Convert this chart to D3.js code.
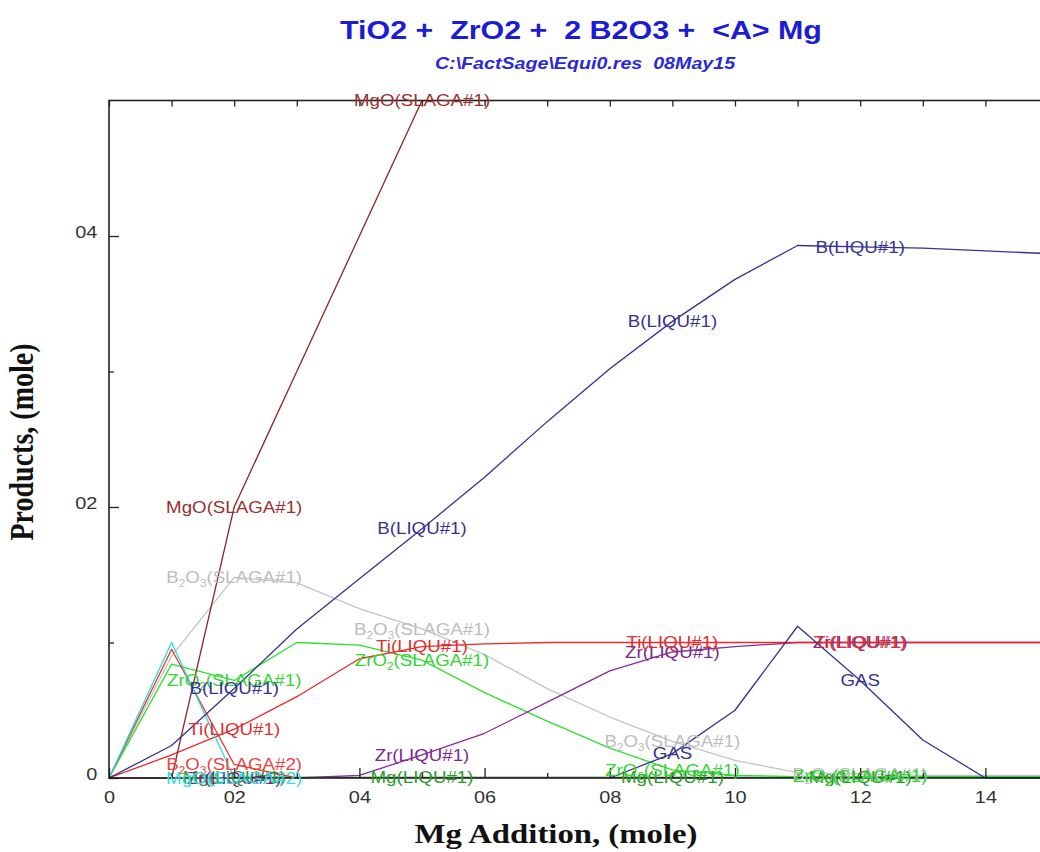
<!DOCTYPE html>
<html><head><meta charset="utf-8">
<script src="https://cdn.jsdelivr.net/npm/d3@7"></script>
<style>body{margin:0;background:#fff}svg{display:block}text{white-space:pre}</style>
</head><body>
<svg id="chart" width="1040" height="852"></svg>
<script>
// ---------------- data ----------------
const xValues      = [0, 0.1, 0.2, 0.3, 0.4, 0.5, 0.6, 0.7, 0.8, 0.9, 1.0, 1.1, 1.2, 1.3, 1.4, 1.5, 1.6];
const mgoSlaga1    = [0, 0, 0.2, 0.3, 0.4, 0.5, 0.6, 0.7, 0.8, 0.9, 1.0, 1.1, 1.2, 1.3, 1.4, 1.5, 1.6];
const bLiqu        = [0, 0.024, 0.066, 0.11, 0.147, 0.184, 0.222, 0.263, 0.302, 0.337, 0.368, 0.393, 0.392, 0.391, 0.389, 0.387, 0.386];
const b2o3Slaga1   = [0, 0.09, 0.148, 0.144, 0.125, 0.11, 0.091, 0.066, 0.045, 0.027, 0.013, 0.004, 0.003, 0.002, 0.002, 0.002, 0.002];
const tiLiqu       = [0, 0.017, 0.036, 0.06, 0.088, 0.097, 0.099, 0.1, 0.1, 0.1, 0.1, 0.1, 0.1, 0.1, 0.1, 0.1, 0.1];
const zrLiqu       = [null, null, null, 0, 0.002, 0.017, 0.033, 0.056, 0.079, 0.093, 0.097, 0.1, 0.1, 0.1, 0.1, 0.1, 0.1];
const zro2Slaga1   = [0, 0.084, 0.072, 0.1, 0.098, 0.087, 0.063, 0.042, 0.022, 0.006, 0.002, 0.001, 0.001, 0.001, 0.001, 0.001, 0.001];
const mgoSlaga2    = [0, 0.1, 0, null, null, null, null, null, null, null, null, null, null, null, null, null, null];
const b2o3Slaga2   = [0, 0.095, 0.01, 0, null, null, null, null, null, null, null, null, null, null, null, null, null];
const gas          = [null, null, null, null, null, null, null, null, 0, 0.018, 0.05, 0.112, 0.072, 0.028, 0, 0, 0];
const mgLiqu       = [null, null, 0.0005, 0.0005, 0.0005, 0.0005, 0.0005, 0.0005, 0.0005, 0.0005, 0.0005, 0.0005, 0.0005, 0.0005, 0.0005, 0.0005, 0.0005];

const xTickValues  = [0, 0.2, 0.4, 0.6, 0.8, 1.0, 1.2, 1.4];
const xTickLabels  = ["0", "02", "04", "06", "08", "10", "12", "14"];
const xMinorTicks  = [0.1, 0.3, 0.5, 0.7, 0.9, 1.1, 1.3, 1.5];
const yTickValues  = [0, 0.2, 0.4];
const yTickLabels  = ["0", "02", "04"];
const yMinorTicks  = [0.1, 0.3];

const titleText    = "TiO2 +  ZrO2 +  2 B2O3 +  <A> Mg";
const subtitleText = "C:\\FactSage\\Equi0.res  08May15";
const xTitle       = "Mg Addition, (mole)";
const yTitle       = "Products, (mole)";

// series: name uses "_d" for subscript digits
const series = [
  {name: "B_2O_3(SLAGA#1)", values: b2o3Slaga1, color: "#c4c4c4", text: "#bdbdbd", labels: [0.2, 0.5, 0.9, 1.2]},
  {name: "Mg(LIQU#1)",      values: mgLiqu,     color: "#146414", text: "#2a9a2a", labels: [0.2, 0.5, 0.9, 1.2]},
  {name: "ZrO_2(SLAGA#1)",  values: zro2Slaga1, color: "#2ee02e", text: "#33d433", labels: [0.2, 0.5, 0.9, 1.2]},
  {name: "Zr(LIQU#1)",      values: zrLiqu,     color: "#8a2a9a", text: "#7a2a8a", labels: [0.2, 0.5, 0.9, 1.2]},
  {name: "Ti(LIQU#1)",      values: tiLiqu,     color: "#e82a2a", text: "#e03030", labels: [0.2, 0.5, 0.9, 1.2]},
  {name: "B_2O_3(SLAGA#2)", values: b2o3Slaga2, color: "#ec3535", text: "#ec4545", labels: [0.2]},
  {name: "MgO(SLAGA#2)",    values: mgoSlaga2,  color: "#2adede", text: "#33dddd", labels: [0.2]},
  {name: "MgO(SLAGA#1)",    values: mgoSlaga1,  color: "#8e2222", text: "#9a3030", labels: [0.2, 0.5]},
  {name: "GAS",             values: gas,        color: "#34348c", text: "#34348c", labels: [0.9, 1.2]},
  {name: "B(LIQU#1)",       values: bLiqu,      color: "#34348e", text: "#34348e", labels: [0.2, 0.5, 0.9, 1.2]}
];

// ---------------- layout ----------------
const SX = 1.17; // horizontal stretch of all text
const svg = d3.select("#chart");
const x = d3.scaleLinear().domain([0, 1.6]).range([109, 109 + 626 * 1.6]);
const y = d3.scaleLinear().domain([0, 0.5]).range([778, 100.5]);
const font = "'Liberation Sans', Arial, sans-serif";

svg.append("rect").attr("width", 1040).attr("height", 852).attr("fill", "#fff");

function stretchedText(parent, tx, ty, txt, opts) {
  const g = parent.append("g").attr("transform", `translate(${tx},${ty}) scale(${SX},1)` + (opts.rotate ? ` rotate(${opts.rotate})` : ""));
  const t = g.append("text")
    .attr("text-anchor", opts.anchor || "middle")
    .attr("font-family", opts.family || font)
    .attr("font-size", opts.size)
    .attr("font-weight", opts.weight || "normal")
    .attr("font-style", opts.style || "normal")
    .attr("fill", opts.color || "#000");
  if (opts.dy) t.attr("dy", opts.dy);
  return t.text(txt);
}

// title
stretchedText(svg, 581, 39, titleText, {size: 26, weight: "bold", color: "#1c1cd6"});
stretchedText(svg, 585, 69, subtitleText, {size: 16.8, style: "italic", weight: "bold", color: "#2a2ad8"});

// clip
svg.append("defs").append("clipPath").attr("id", "plotClip")
  .append("rect").attr("x", 109).attr("y", 100.5).attr("width", 1100).attr("height", 681);

// lines
const plot = svg.append("g").attr("clip-path", "url(#plotClip)");
const line = d3.line()
  .defined(d => d[1] !== null)
  .x(d => x(d[0])).y(d => y(d[1]));
series.forEach(s => {
  plot.append("path")
    .datum(xValues.map((xv, i) => [xv, s.values[i]]))
    .attr("fill", "none").attr("stroke", s.color).attr("stroke-width", 1.3)
    .attr("stroke-linejoin", "round")
    .attr("d", line);
});

// axes
const axG = svg.append("g").attr("font-family", font);
const axBottom = axG.append("g").attr("transform", "translate(0,778)")
  .call(d3.axisBottom(x).tickValues(xTickValues).tickFormat((d, i) => xTickLabels[i]).tickSizeInner(-10).tickSizeOuter(0).tickPadding(13));
const axBottomMinor = axG.append("g").attr("transform", "translate(0,778)")
  .call(d3.axisBottom(x).tickValues(xMinorTicks).tickFormat("").tickSizeInner(-5).tickSizeOuter(0));
const axTop = axG.append("g").attr("transform", "translate(0,100.5)")
  .call(d3.axisTop(x).tickValues(xTickValues.concat(xMinorTicks)).tickFormat("").tickSizeInner(-6).tickSizeOuter(0));
const axLeft = axG.append("g").attr("transform", "translate(109,0)")
  .call(d3.axisLeft(y).tickValues(yTickValues).tickFormat((d, i) => yTickLabels[i]).tickSizeInner(-10).tickSizeOuter(0).tickPadding(10));
const axLeftMinor = axG.append("g").attr("transform", "translate(109,0)")
  .call(d3.axisLeft(y).tickValues(yMinorTicks).tickFormat("").tickSizeInner(-5).tickSizeOuter(0));
[axBottom, axBottomMinor, axTop, axLeft, axLeftMinor].forEach(g => {
  g.select(".domain").remove();
  g.selectAll("line").attr("stroke", "#222").attr("stroke-width", 1.3);
  g.selectAll("text").attr("font-size", 17).attr("fill", "#333").attr("font-family", font)
    .attr("transform", `scale(${SX},1)`);
});
axLeft.selectAll("text").attr("dy", "0.1em");

// frame
axG.append("rect").attr("x", 109).attr("y", 100.5).attr("width", x(1.6) - 109).attr("height", 778 - 100.5)
  .attr("fill", "none").attr("stroke", "#222").attr("stroke-width", 1.6);

// curve labels
const lab = svg.append("g");
series.forEach(s => {
  s.labels.forEach(lx => {
    const i = xValues.findIndex(v => Math.abs(v - lx) < 1e-9);
    const v = Math.min(s.values[i], 0.5);
    const t = stretchedText(lab, x(lx), y(v), "", {size: 16, color: s.text, dy: "0.36em"});
    const parts = s.name.split(/_(\d)/);
    parts.forEach((p, k) => {
      if (p === "") return;
      if (k % 2 === 1) {
        t.append("tspan").attr("font-size", 10).attr("dy", 4).text(p);
      } else {
        const ts = t.append("tspan").text(p);
        if (k > 0) ts.attr("dy", -4);
      }
    });
  });
});

// axis titles
stretchedText(svg, 556, 843, xTitle, {size: 28, weight: "bold", family: "'Liberation Serif', 'Times New Roman', serif", color: "#111"});
stretchedText(svg, 33, 442, yTitle, {size: 28, weight: "bold", family: "'Liberation Serif', 'Times New Roman', serif", color: "#111", rotate: -90});
</script>
</body></html>
